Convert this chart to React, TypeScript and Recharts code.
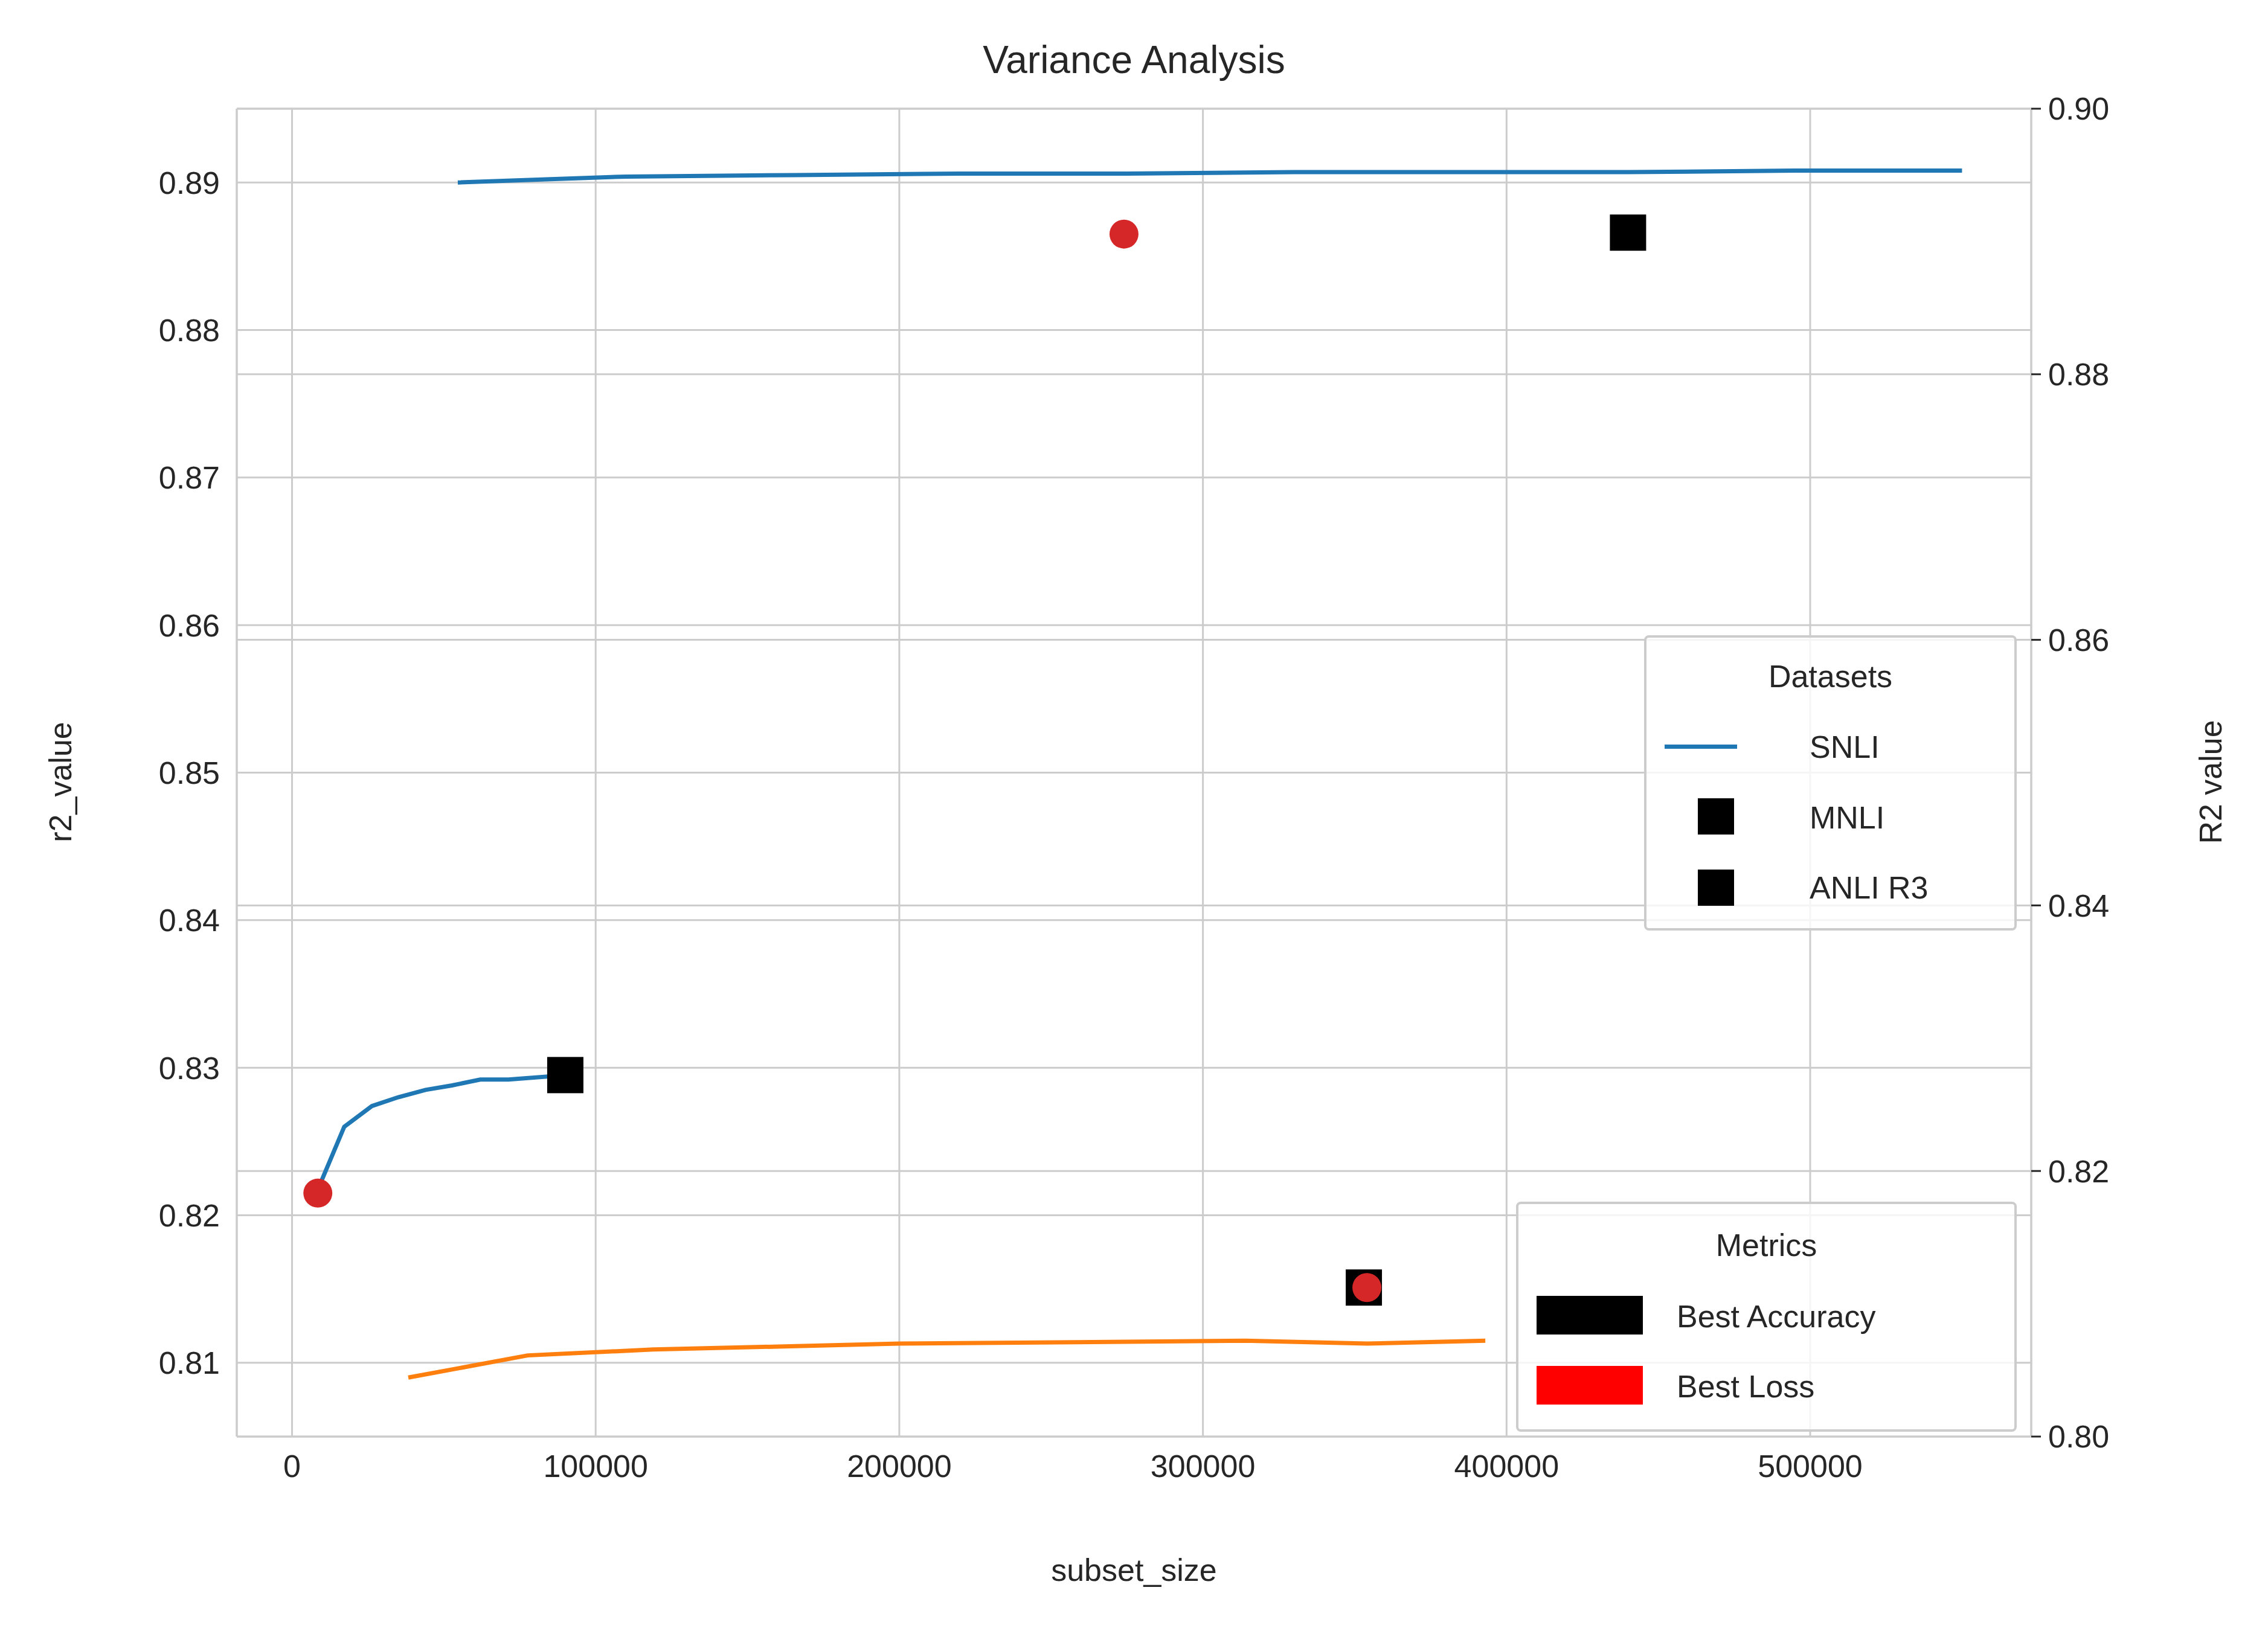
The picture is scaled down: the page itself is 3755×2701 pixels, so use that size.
import { ComposedChart, Line, Scatter, XAxis, YAxis, CartesianGrid, ReferenceLine } from 'recharts';

const snliX = [54600, 110000, 165000, 220000, 275000, 330000, 385000, 440000, 495000, 550000];
const snliY = [0.8900, 0.8904, 0.8905, 0.8906, 0.8906, 0.8907, 0.8907, 0.8907, 0.8908, 0.8908];
const mnliX = [8000, 17200, 26300, 35000, 44000, 52700, 62000, 71300, 90500];
const mnliY = [0.8215, 0.8260, 0.8274, 0.8280, 0.8285, 0.8288, 0.8292, 0.8292, 0.8295];
const anliX = [38300, 77600, 119000, 160000, 200000, 258000, 314000, 354000, 393000];
const anliY = [0.8090, 0.8105, 0.8109, 0.8111, 0.8113, 0.8114, 0.8115, 0.8113, 0.8115];
const bestAccX = [440000, 90000, 353000];
const bestAccY = [0.8866, 0.8295, 0.8151];
const bestLossX = [274000, 8500, 354000];
const bestLossY = [0.8865, 0.8215, 0.8151];

const xTicks = [0, 100000, 200000, 300000, 400000, 500000];
const leftTicks = [0.81, 0.82, 0.83, 0.84, 0.85, 0.86, 0.87, 0.88, 0.89];
const rightTicks = [0.8, 0.82, 0.84, 0.86, 0.88, 0.9];

const zip = (xs: number[], ys: number[]) => xs.map((x, i) => ({ x, y: ys[i] }));

const W = 3755;
const H = 2701;
const AXW = 250;
const M = { top: 180, right: 392 - AXW, bottom: 292, left: 392 - AXW };
const FONT = 'Arial, Liberation Sans, sans-serif';
const TXT = '#262626';
const FS = 52;
const tick = { fontSize: FS, fill: TXT, fontFamily: FONT };

const Square = (p: any) => <rect x={p.cx - 30} y={p.cy - 30} width={60} height={60} fill="#000" />;
const Dot = (p: any) => <circle cx={p.cx} cy={p.cy} r={24} fill="#d62728" />;

export default function App() {
  const box: React.CSSProperties = {
    position: 'absolute', background: 'rgba(255,255,255,0.8)', border: '4px solid #cccccc',
    borderRadius: 8, fontFamily: FONT, fontSize: FS, color: TXT, boxSizing: 'border-box',
  };
  const abs = (left: number, top: number): React.CSSProperties => ({ position: 'absolute', left, top, lineHeight: 1 });
  return (
    <div style={{ position: 'fixed', left: 0, top: 0, width: W, height: H, background: '#fff' }}>
      <ComposedChart width={W} height={H} margin={M}>
        <CartesianGrid stroke="#cccccc" strokeWidth={3} yAxisId="left" horizontalValues={leftTicks} />
        {rightTicks.map((t) => (
          <ReferenceLine key={t} yAxisId="right" y={t} stroke="#cccccc" strokeWidth={3} />
        ))}
        <XAxis type="number" dataKey="x" domain={[-18200, 572800]} ticks={xTicks} allowDataOverflow
          tick={tick} tickLine={false} axisLine={{ stroke: '#cccccc', strokeWidth: 3 }} tickMargin={24} />
        <YAxis yAxisId="left" width={AXW} type="number" domain={[0.805, 0.895]} ticks={leftTicks} allowDataOverflow
          tick={tick} tickLine={false} axisLine={{ stroke: '#cccccc', strokeWidth: 3 }} tickMargin={22}
          tickFormatter={(v) => v.toFixed(2)} />
        <YAxis yAxisId="right" width={AXW} orientation="right" type="number" domain={[0.8, 0.9]} ticks={rightTicks} allowDataOverflow
          tick={tick} tickLine={{ stroke: TXT, strokeWidth: 3 }} tickSize={16} axisLine={{ stroke: '#cccccc', strokeWidth: 3 }} tickMargin={12}
          tickFormatter={(v) => v.toFixed(2)} />
        <ReferenceLine yAxisId="left" y={0.895} stroke="#cccccc" strokeWidth={3} />
        <Line yAxisId="right" data={zip([0, 500000], [0.85, 0.85])} dataKey="y" stroke="none" dot={false} isAnimationActive={false} />
        <Line yAxisId="left" data={zip(snliX, snliY)} dataKey="y" stroke="#1f77b4" strokeWidth={7} dot={false} isAnimationActive={false} />
        <Line yAxisId="left" data={zip(mnliX, mnliY)} dataKey="y" stroke="#1f77b4" strokeWidth={7} dot={false} isAnimationActive={false} />
        <Line yAxisId="left" data={zip(anliX, anliY)} dataKey="y" stroke="#ff7f0e" strokeWidth={7} dot={false} isAnimationActive={false} />
        <Scatter yAxisId="left" data={zip(bestAccX, bestAccY)} dataKey="y" shape={Square} isAnimationActive={false} />
        <Scatter yAxisId="left" data={zip(bestLossX, bestLossY)} dataKey="y" shape={Dot} isAnimationActive={false} />
      </ComposedChart>
      <div style={{ position: 'absolute', left: 0, top: 62, width: W, textAlign: 'center', fontFamily: FONT, fontSize: 64, color: TXT }}>
        Variance Analysis
      </div>
      <div style={{ position: 'absolute', left: 0, top: 2570, width: W, textAlign: 'center', fontFamily: FONT, fontSize: FS, color: TXT }}>
        subset_size
      </div>
      <div style={{ position: 'absolute', left: 100, top: 1295, width: 0, height: 0 }}>
        <div style={{ position: 'absolute', transform: 'translate(-50%,-50%) rotate(-90deg)', fontFamily: FONT, fontSize: FS, color: TXT, whiteSpace: 'nowrap' }}>r2_value</div>
      </div>
      <div style={{ position: 'absolute', left: 3660, top: 1295, width: 0, height: 0 }}>
        <div style={{ position: 'absolute', transform: 'translate(-50%,-50%) rotate(-90deg)', fontFamily: FONT, fontSize: FS, color: TXT, whiteSpace: 'nowrap' }}>R2 value</div>
      </div>
      <div style={{ ...box, left: 2722, top: 1052, width: 617, height: 489 }}>
        <div style={{ ...abs(0, 38), width: '100%', textAlign: 'center' }}>Datasets</div>
        <div style={{ position: 'absolute', left: 30, top: 177, width: 120, height: 7, background: '#1f77b4' }} />
        <div style={abs(270, 155)}>SNLI</div>
        <div style={{ position: 'absolute', left: 85, top: 266, width: 60, height: 60, background: '#000' }} />
        <div style={abs(270, 272)}>MNLI</div>
        <div style={{ position: 'absolute', left: 85, top: 384, width: 60, height: 60, background: '#000' }} />
        <div style={abs(270, 388)}>ANLI R3</div>
      </div>
      <div style={{ ...box, left: 2510, top: 1990, width: 829, height: 381 }}>
        <div style={{ ...abs(0, 42), width: '100%', textAlign: 'center' }}>Metrics</div>
        <div style={{ position: 'absolute', left: 30, top: 152, width: 176, height: 64, background: '#000' }} />
        <div style={abs(262, 160)}>Best Accuracy</div>
        <div style={{ position: 'absolute', left: 30, top: 268, width: 176, height: 64, background: '#ff0000' }} />
        <div style={abs(262, 276)}>Best Loss</div>
      </div>
    </div>
  );
}
